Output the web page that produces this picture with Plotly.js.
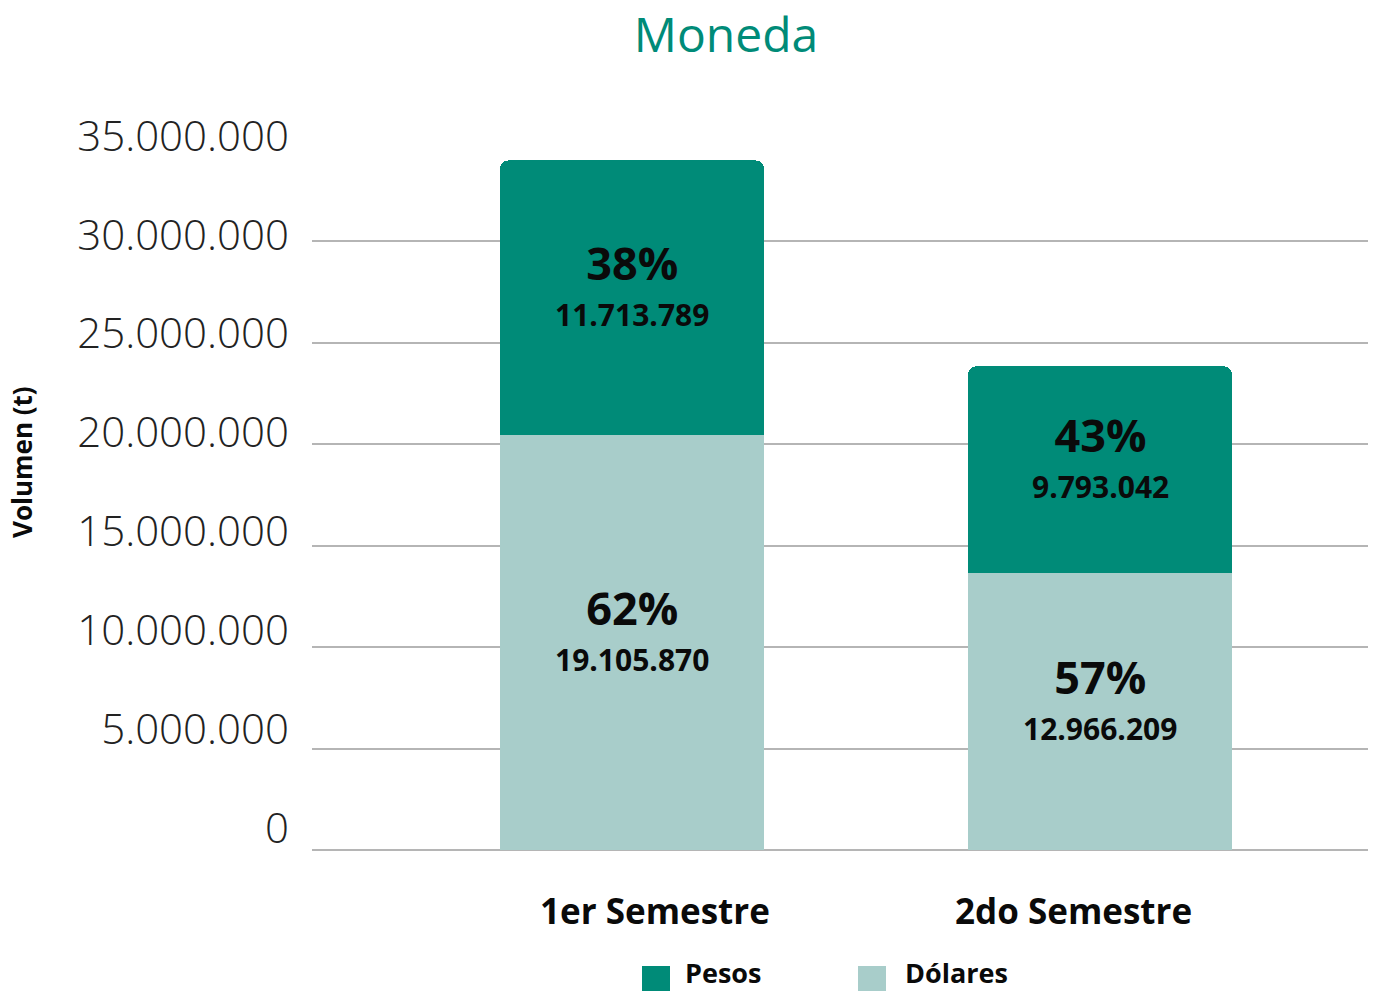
<!DOCTYPE html>
<html>
<head>
<meta charset="utf-8">
<script src="https://cdn.plot.ly/plotly-3.0.1.min.js"></script>
<style>
  html, body { margin: 0; padding: 0; background: #ffffff; }
  #chart { width: 1373px; height: 991px; }
</style>
</head>
<body>
<div id="chart"></div>
<script>
// ---- data ----
const categories = ['1er Semestre', '2do Semestre'];
const seriesNames = ['Dólares', 'Pesos'];
// bar segment heights as drawn
const dolares = [20460000, 13660000];
const pesos = [13530000, 10180000];
// label texts shown inside the bars
const dolaresPct = ['62%', '57%'];
const pesosPct = ['38%', '43%'];
const dolaresLabel = ['19.105.870', '12.966.209'];
const pesosLabel = ['11.713.789', '9.793.042'];
const yTicks = [0, 5000000, 10000000, 15000000, 20000000, 25000000, 30000000, 35000000];

const DARK = '#008B78';
const LIGHT = '#A8CDCA';
const FONT = 'Open Sans, Noto Sans, sans-serif';

function labelHtml(p, v) {
  return '<span style="font-size:45px">' + p + '</span><br><span style="font-size:30px">' + v + '</span>';
}

const idx = categories.map((c, i) => i);

const barCommon = {
  type: 'bar',
  x: idx,
  width: 0.564,
  hoverinfo: 'skip',
  showlegend: false,
  textposition: 'none'
};

const traces = [
  Object.assign({}, barCommon, {
    name: seriesNames[0],
    y: dolares,
    marker: { color: LIGHT, line: { width: 0 } }
  }),
  Object.assign({}, barCommon, {
    name: seriesNames[1],
    y: pesos,
    marker: { color: DARK, line: { width: 0 } }
  }),
  // carrier for the tick-label axis
  { type: 'scatter', x: [], y: [], xaxis: 'x2', yaxis: 'y2', showlegend: false, hoverinfo: 'skip' }
];

const PLOT_L = 312, PLOT_R = 1368, PLOT_B = 850, PLOT_T = 130;
const W = PLOT_R - PLOT_L, H = PLOT_B - PLOT_T;
const px2x = p => (p - PLOT_L) / W;
const px2y = p => (PLOT_B - p) / H;

const segFont = { family: FONT, size: 35, weight: 700, color: '#0a0a0a' };
const segAnnotations = [];
idx.forEach(i => {
  segAnnotations.push({
    text: labelHtml(dolaresPct[i], dolaresLabel[i]), xref: 'x', yref: 'y',
    x: i, y: dolares[i] / 2, yshift: 14, xanchor: 'center', yanchor: 'middle',
    showarrow: false, font: segFont
  });
  segAnnotations.push({
    text: labelHtml(pesosPct[i], pesosLabel[i]), xref: 'x', yref: 'y',
    x: i, y: dolares[i] + pesos[i] / 2, yshift: 14, xanchor: 'center', yanchor: 'middle',
    showarrow: false, font: segFont
  });
});

const annotations = segAnnotations.concat([
  { text: 'Volumen (t)', xref: 'paper', yref: 'paper', x: px2x(22), y: px2y(462),
    xanchor: 'center', yanchor: 'middle', textangle: -90, showarrow: false,
    font: { family: FONT, size: 26, weight: 700, color: '#0a0a0a' } },
  { text: categories[0], xref: 'x', yref: 'paper', x: 0 + (655 - 632) / 468, y: px2y(910),
    xanchor: 'center', yanchor: 'middle', showarrow: false,
    font: { family: FONT, size: 35, weight: 700, color: '#0a0a0a' } },
  { text: categories[1], xref: 'x', yref: 'paper', x: 1 + (1073 - 1100) / 468, y: px2y(910),
    xanchor: 'center', yanchor: 'middle', showarrow: false,
    font: { family: FONT, size: 35, weight: 700, color: '#0a0a0a' } },
  { text: seriesNames[1], xref: 'paper', yref: 'paper', x: px2x(683), y: px2y(972),
    xanchor: 'left', yanchor: 'middle', showarrow: false,
    font: { family: FONT, size: 27, weight: 700, color: '#0a0a0a' } },
  { text: seriesNames[0], xref: 'paper', yref: 'paper', x: px2x(903), y: px2y(972),
    xanchor: 'left', yanchor: 'middle', showarrow: false,
    font: { family: FONT, size: 27, weight: 700, color: '#0a0a0a' } }
]);

const shapes = [
  { type: 'rect', xref: 'paper', yref: 'paper', x0: px2x(642), x1: px2x(670), y0: px2y(966), y1: px2y(994),
    fillcolor: DARK, line: { width: 0 } },
  { type: 'rect', xref: 'paper', yref: 'paper', x0: px2x(858), x1: px2x(886), y0: px2y(966), y1: px2y(994),
    fillcolor: LIGHT, line: { width: 0 } }
];

const layout = {
  width: 1373,
  height: 991,
  margin: { l: PLOT_L, r: 1373 - PLOT_R, t: PLOT_T, b: 991 - PLOT_B, pad: 0 },
  paper_bgcolor: '#ffffff',
  plot_bgcolor: 'rgba(0,0,0,0)',
  separators: ',.',
  barmode: 'stack',
  barcornerradius: 8,
  showlegend: false,
  title: {
    text: 'Moneda',
    xref: 'container', yref: 'container',
    x: 726 / 1373, xanchor: 'center',
    y: 1 - 35 / 991, yanchor: 'middle',
    font: { family: FONT, size: 48, weight: 400, color: DARK }
  },
  xaxis: {
    range: [-(632 - PLOT_L) / 468, 1 + (PLOT_R - 1100) / 468],
    showticklabels: false, ticks: '', showgrid: false, zeroline: false, showline: false,
    fixedrange: true
  },
  yaxis: {
    domain: [0, (PLOT_B - 140) / H],
    range: [0, 35000000],
    tickvals: yTicks,
    showticklabels: false, ticks: '',
    showgrid: true, gridcolor: '#b5b5b5', gridwidth: 2,
    zeroline: true, zerolinecolor: '#b5b5b5', zerolinewidth: 2,
    showline: false, fixedrange: true
  },
  xaxis2: {
    domain: [0, 1], anchor: 'y2', visible: false, range: [0, 1], fixedrange: true
  },
  yaxis2: {
    domain: [px2y(828), px2y(136)],
    anchor: 'x2', side: 'left',
    range: [0, 35000000],
    tickvals: yTicks,
    tickformat: ',d',
    ticks: '', ticklabelstandoff: 22,
    showgrid: false, zeroline: false, showline: false,
    tickfont: { family: FONT, size: 42, weight: 300, color: '#222222' },
    fixedrange: true
  },
  annotations: annotations,
  shapes: shapes
};

Plotly.newPlot('chart', traces, layout, { displayModeBar: false, staticPlot: true });
</script>
</body>
</html>
